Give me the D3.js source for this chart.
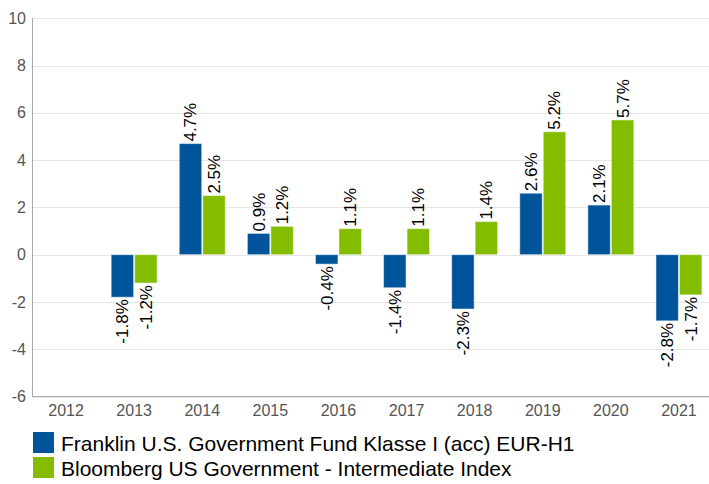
<!DOCTYPE html>
<html><head><meta charset="utf-8">
<script src="https://cdn.jsdelivr.net/npm/d3@7"></script>
<style>html,body{margin:0;padding:0;background:#fff;}svg{display:block;font-family:"Liberation Sans",Arial,sans-serif;}</style>
</head><body>
<script>
const categories = ["2012","2013","2014","2015","2016","2017","2018","2019","2020","2021"];
const fundValues = [null,-1.8,4.7,0.9,-0.4,-1.4,-2.3,2.6,2.1,-2.8];
const indexValues = [null,-1.2,2.5,1.2,1.1,1.1,1.4,5.2,5.7,-1.7];
const seriesNames = ["Franklin U.S. Government Fund Klasse I (acc) EUR-H1","Bloomberg US Government - Intermediate Index"];
const seriesColors = ["#00559a","#84bc00"];
const yTicks = [-6,-4,-2,0,2,4,6,8,10];

const W=709,H=484;
const svg=d3.select("body").append("svg").attr("width",W).attr("height",H);
const x=d3.scaleBand().domain(categories).range([32,713]).paddingInner(0.31).paddingOuter(0.155);
const y=d3.scaleLinear().domain([-6,10]).range([396.5,18.3]);

// grid
svg.append("g").selectAll("line").data(yTicks).join("line")
  .attr("x1",33).attr("x2",W).attr("y1",d=>Math.round(y(d))+0.5).attr("y2",d=>Math.round(y(d))+0.5)
  .attr("stroke","#e6e6e6").attr("stroke-width",1);

// y labels
svg.append("g").selectAll("text").data(yTicks).join("text")
  .attr("x",26).attr("y",d=>y(d)).attr("dy","0.35em").attr("text-anchor","end")
  .attr("font-size",16).attr("fill","#555").text(d=>d);

// x labels
svg.append("g").selectAll("text").data(categories).join("text")
  .attr("x",d=>x(d)+x.bandwidth()/2).attr("y",416).attr("text-anchor","middle")
  .attr("font-size",16).attr("fill","#555").text(d=>d);

const x1=d3.scaleBand().domain([0,1]).range([0,x.bandwidth()]).padding(0);
const series=[fundValues,indexValues];
series.forEach((vals,si)=>{
  const data=categories.map((c,i)=>({c,v:vals[i]})).filter(d=>d.v!==null);
  svg.append("g").selectAll("rect").data(data).join("rect")
    .attr("x",d=>x(d.c)+x1(si)+0.5).attr("width",x1.bandwidth()-1)
    .attr("y",d=>y(Math.max(0,d.v))).attr("height",d=>Math.abs(y(d.v)-y(0)))
    .attr("fill",seriesColors[si]).attr("stroke","#fff").attr("stroke-opacity",0.5).attr("stroke-width",1);
  svg.append("g").selectAll("text").data(data).join("text")
    .attr("transform",d=>{
      const cx=x(d.c)+x1(si)+x1.bandwidth()/2;
      const cy=y(d.v)+(d.v>=0?-2:2);
      return `translate(${cx},${cy}) rotate(-90)`;
    })
    .attr("text-anchor",d=>d.v>=0?"start":"end").attr("dy","0.35em")
    .attr("font-size",17).attr("fill","#000").text(d=>d.v.toFixed(1)+"%");
});

// axes lines
svg.append("line").attr("x1",32.5).attr("x2",32.5).attr("y1",18).attr("y2",397).attr("stroke","#aaa");
svg.append("line").attr("x1",32).attr("x2",W).attr("y1",396.5).attr("y2",396.5).attr("stroke","#aaa");

// legend
const lg=svg.append("g");
seriesNames.forEach((n,i)=>{
  lg.append("rect").attr("x",33).attr("y",432+i*25).attr("width",21).attr("height",21).attr("fill",seriesColors[i]);
  lg.append("text").attr("x",61).attr("y",451+i*25).attr("font-size",21).attr("fill","#000").text(n);
});
</script>
</body></html>
